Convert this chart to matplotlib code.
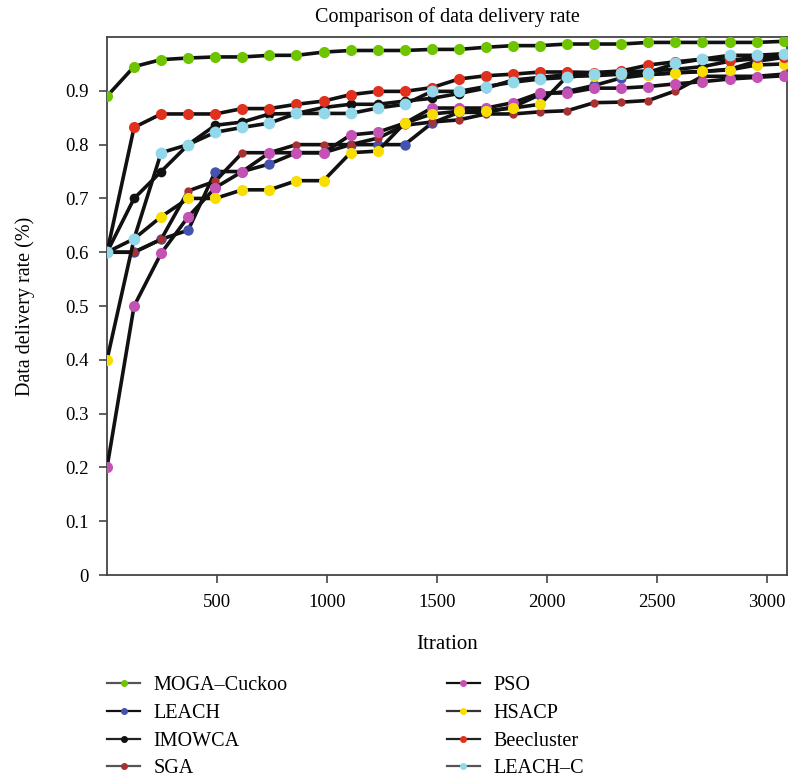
import matplotlib
matplotlib.use("Agg")
import matplotlib.pyplot as plt
from matplotlib.lines import Line2D

plt.rcParams['font.family'] = ['Liberation Serif', 'DejaVu Serif']

iterations = [0, 123, 246, 369, 492, 615, 738, 861, 984, 1107, 1230, 1353, 1476,
              1599, 1722, 1845, 1968, 2091, 2214, 2337, 2460, 2583, 2706, 2829, 2952, 3075]

moga = [0.89, 0.945, 0.958, 0.961, 0.963, 0.963, 0.966, 0.966, 0.972, 0.975, 0.975, 0.975, 0.977,
        0.977, 0.981, 0.984, 0.984, 0.987, 0.987, 0.987, 0.99, 0.99, 0.99, 0.99, 0.99, 0.992]
leach = [0.6, 0.6, 0.624, 0.641, 0.75, 0.75, 0.764, 0.785, 0.785, 0.8, 0.8, 0.8, 0.84,
         0.86, 0.86, 0.87, 0.893, 0.899, 0.91, 0.924, 0.93, 0.933, 0.936, 0.94, 0.955, 0.962]
imowca = [0.6, 0.70, 0.75, 0.8, 0.836, 0.842, 0.857, 0.858, 0.869, 0.875, 0.875, 0.881, 0.886,
          0.895, 0.905, 0.92, 0.925, 0.93, 0.932, 0.935, 0.937, 0.94, 0.945, 0.955, 0.96, 0.965]
sga = [0.6, 0.6, 0.624, 0.714, 0.732, 0.785, 0.785, 0.8, 0.8, 0.8, 0.812, 0.836, 0.842,
       0.846, 0.857, 0.857, 0.861, 0.863, 0.878, 0.879, 0.882, 0.9, 0.927, 0.927, 0.927, 0.931]
pso = [0.2, 0.5, 0.598, 0.666, 0.72, 0.75, 0.785, 0.785, 0.785, 0.818, 0.823, 0.84, 0.868,
       0.868, 0.868, 0.878, 0.896, 0.896, 0.905, 0.905, 0.908, 0.913, 0.917, 0.922, 0.925, 0.928]
hsacp = [0.4, 0.625, 0.666, 0.7, 0.7, 0.716, 0.716, 0.733, 0.733, 0.785, 0.788, 0.84, 0.857,
         0.862, 0.863, 0.868, 0.875, 0.927, 0.928, 0.931, 0.93, 0.934, 0.936, 0.939, 0.948, 0.95]
beecluster = [0.6, 0.832, 0.857, 0.857, 0.857, 0.867, 0.867, 0.875, 0.881, 0.893, 0.899, 0.899, 0.906,
              0.922, 0.928, 0.931, 0.935, 0.935, 0.934, 0.937, 0.948, 0.954, 0.959, 0.957, 0.962, 0.962]
leach_c = [0.6, 0.625, 0.785, 0.8, 0.823, 0.832, 0.84, 0.858, 0.858, 0.858, 0.868, 0.875, 0.899,
           0.899, 0.908, 0.916, 0.922, 0.925, 0.931, 0.933, 0.934, 0.951, 0.959, 0.966, 0.966, 0.969]

names = ['MOGA–Cuckoo', 'LEACH', 'IMOWCA', 'SGA', 'PSO', 'HSACP', 'Beecluster', 'LEACH–C']
series = [moga, leach, imowca, sga, pso, hsacp, beecluster, leach_c]
colors = ['#6fc400', '#4452b0', '#111111', '#a83232', '#c452b4', '#f7de00', '#e0301e', '#92d8ea']
msizes = [8, 7.5, 7, 6, 8, 8, 8, 8.5]
legend_lines = ['#555555', '#111111', '#222222', '#555555', '#111111', '#333333', '#222222', '#555555']

fig = plt.figure(figsize=(7.98, 7.78), dpi=100)
ax = fig.add_axes([0.1341, 0.2609, 0.8521, 0.6915])

for ys, c, ms in zip(series, colors, msizes):
    ax.plot(iterations, ys, color='#111111', lw=2.6, marker='o', markersize=ms,
            markerfacecolor=c, markeredgecolor=c, markeredgewidth=0, zorder=3)

ax.set_xlim(0, 3090)
ax.set_ylim(0, 1.0)
ax.set_xticks([500, 1000, 1500, 2000, 2500, 3000])
ax.set_yticks([0, 0.1, 0.2, 0.3, 0.4, 0.5, 0.6, 0.7, 0.8, 0.9])
ax.set_yticklabels(['0', '0.1', '0.2', '0.3', '0.4', '0.5', '0.6', '0.7', '0.8', '0.9'])
ax.tick_params(axis='both', direction='out', length=6, width=1.2, color='#444444',
               labelsize=13.5, pad=7)
ax.tick_params(axis='x', pad=8)
for sp in ax.spines.values():
    sp.set_color('#444444')
    sp.set_linewidth(1.3)

ax.set_title('Comparison of data delivery rate', fontsize=14.5, pad=11)
ax.set_xlabel('Itration', fontsize=15, labelpad=17)
ax.set_ylabel('Data delivery rate (%)', fontsize=14.5, labelpad=22)

handles = [Line2D([0], [0], color=lc, lw=1.6, marker='o', markersize=4,
                  markerfacecolor=c, markeredgecolor=c) for lc, c in zip(legend_lines, colors)]

common = dict(loc='upper left', frameon=False, fontsize=14.5, handlelength=1.65,
              handletextpad=0.65, labelspacing=0.43, borderpad=0, borderaxespad=0)
fig.legend(handles[:4], names[:4], bbox_to_anchor=(0.134, 0.131), **common)
fig.legend(handles[4:], names[4:], bbox_to_anchor=(0.560, 0.131), **common)

fig.savefig('out.png', dpi=100)
